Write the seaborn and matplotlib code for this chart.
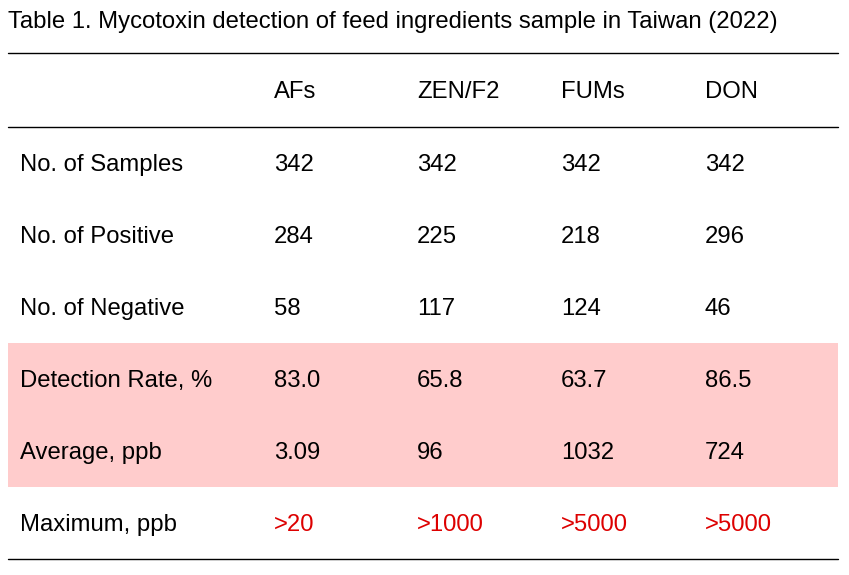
import matplotlib.pyplot as plt
import seaborn as sns

sns.set_style("white")
plt.rcParams["font.family"] = "Liberation Sans"
plt.rcParams["text.color"] = "black"

title = "Table 1. Mycotoxin detection of feed ingredients sample in Taiwan (2022)"
toxins = ["AFs", "ZEN/F2", "FUMs", "DON"]
row_labels = ["No. of Samples", "No. of Positive", "No. of Negative",
              "Detection Rate, %", "Average, ppb", "Maximum, ppb"]
samples = ["342", "342", "342", "342"]
positive = ["284", "225", "218", "296"]
negative = ["58", "117", "124", "46"]
detection = ["83.0", "65.8", "63.7", "86.5"]
average = ["3.09", "96", "1032", "724"]
maximum = [">20", ">1000", ">5000", ">5000"]
rows = [samples, positive, negative, detection, average, maximum]

fig = plt.figure(figsize=(8.49, 5.75), dpi=100)
ax = fig.add_axes([0, 0, 1, 1])
ax.set_xlim(0, 849)
ax.set_ylim(575, 0)
ax.axis("off")

fs = 17.2
col_x = [274, 417, 561, 705]
row_y = [165, 237, 309, 381, 453, 525]

ax.axhspan(343, 487, xmin=8 / 849, xmax=838 / 849, color="#ffcccc", lw=0)
for y in (53, 127, 559):
    ax.plot([8, 838], [y, y], color="black", lw=1)

ax.text(8, 22, title, fontsize=fs, va="center", ha="left", color="black")
for x, t in zip(col_x, toxins):
    ax.text(x, 92, t, fontsize=fs, va="center", color="black")
for i, (lab, vals) in enumerate(zip(row_labels, rows)):
    y = row_y[i]
    ax.text(20, y, lab, fontsize=fs, va="center", color="black")
    color = "#dd0000" if i == len(rows) - 1 else "black"
    for x, v in zip(col_x, vals):
        ax.text(x, y, v, fontsize=fs, va="center", color=color)

fig.savefig("out.png", dpi=100, facecolor="white")
